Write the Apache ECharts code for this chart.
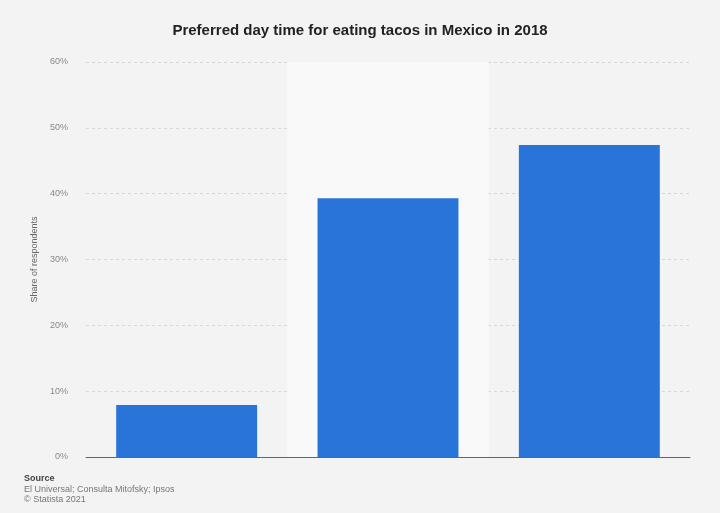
<!DOCTYPE html>
<html>
<head>
<meta charset="utf-8">
<script src="https://cdn.jsdelivr.net/npm/echarts@6/dist/echarts.min.js"></script>
<style>
html,body{margin:0;padding:0;background:#f3f3f3;}
#c{width:720px;height:513px;}
</style>
</head>
<body>
<div id="c"></div>
<script>
var categories = ['Breakfast', 'Lunch', 'Dinner'];
var shareValues = [7.9, 39.3, 47.4];
var yTicks = [0, 10, 20, 30, 40, 50, 60];

var chart = echarts.init(document.getElementById('c'));
chart.setOption({
  backgroundColor: '#f3f3f3',
  animation: false,
  title: {
    text: 'Preferred day time for eating tacos in Mexico in 2018',
    left: 'center',
    top: 18,
    textStyle: {fontFamily: 'Liberation Sans, Arial', fontSize: 15, fontWeight: 'bold', color: '#222'}
  },
  graphic: [
    {type: 'text', left: 24, top: 474, style: {text: 'Source', fontFamily: 'Liberation Sans, Arial', fontSize: 9, fontWeight: 'bold', fill: '#444'}},
    {type: 'text', left: 24, top: 485, style: {text: 'El Universal; Consulta Mitofsky; Ipsos', fontFamily: 'Liberation Sans, Arial', fontSize: 9, fill: '#777'}},
    {type: 'text', left: 24, top: 495, style: {text: '\u00a9 Statista 2021', fontFamily: 'Liberation Sans, Arial', fontSize: 9, fill: '#777'}}
  ],
  grid: {left: 86, right: 30, top: 62, bottom: 56},
  xAxis: {
    type: 'category',
    data: categories,
    axisLine: {show: true, lineStyle: {color: '#666', width: 1}},
    axisTick: {show: false},
    axisLabel: {show: false},
    splitArea: {show: true, areaStyle: {color: ['rgba(0,0,0,0)', '#f9f9f9']}}
  },
  yAxis: {
    type: 'value',
    min: yTicks[0],
    max: yTicks[yTicks.length - 1],
    interval: 10,
    name: 'Share of respondents',
    nameLocation: 'middle',
    nameGap: 46,
    nameTextStyle: {fontFamily: 'Liberation Sans, Arial', fontSize: 9, color: '#666'},
    axisLine: {show: false},
    axisTick: {show: false},
    axisLabel: {formatter: '{value}%', fontFamily: 'Liberation Sans, Arial', fontSize: 9, color: '#888', margin: 18},
    splitLine: {lineStyle: {color: '#d8d8d8', type: [3, 3], width: 1}}
  },
  series: [{
    type: 'bar',
    data: shareValues,
    barWidth: '70%',
    itemStyle: {color: '#2874d8'}
  }]
});
</script>
</body>
</html>
